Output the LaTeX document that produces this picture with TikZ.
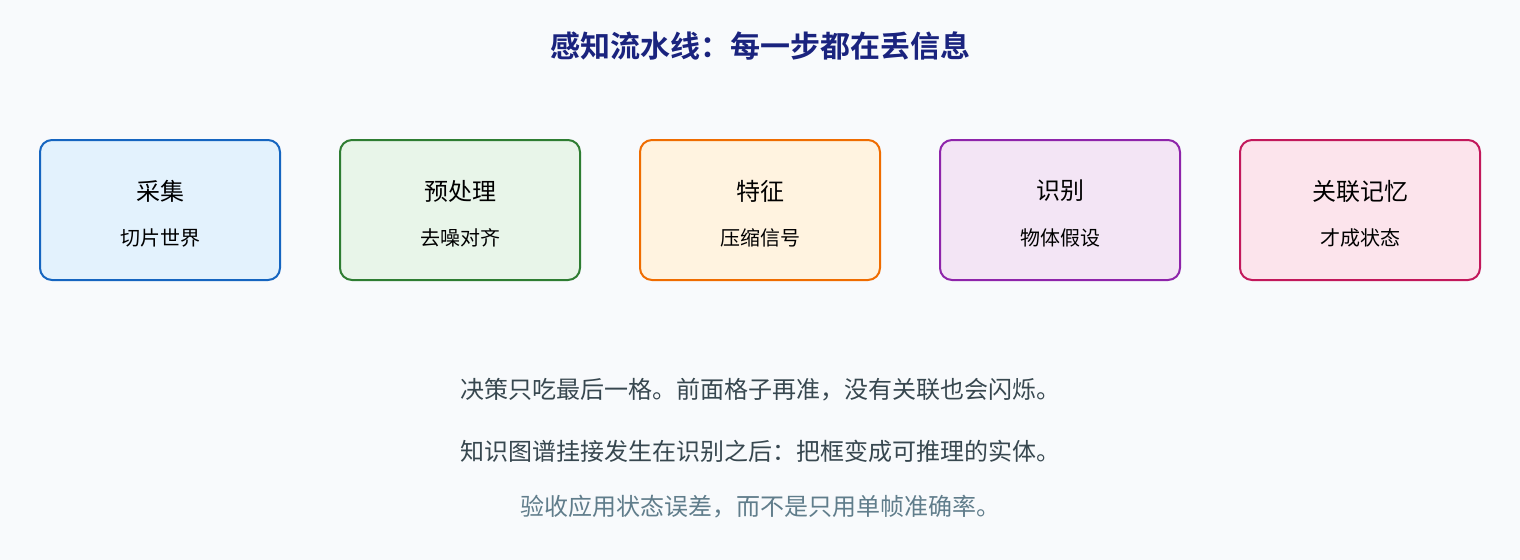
\documentclass[tikz,border=0pt]{standalone}
\usepackage{fontspec}
\setmainfont{Noto Sans CJK SC}[BoldFont={* Bold}]
\usepackage{tikz}
\usetikzlibrary{calc}

\definecolor{bgpage}{HTML}{F8FAFC}
\definecolor{titleblue}{HTML}{1A237E}
\definecolor{bodytext}{HTML}{37474F}
\definecolor{notetext}{HTML}{607D8B}
\definecolor{blueline}{HTML}{1565C0}\definecolor{bluefill}{HTML}{E3F2FD}
\definecolor{greenline}{HTML}{2E7D32}\definecolor{greenfill}{HTML}{E8F5E9}
\definecolor{orangeline}{HTML}{EF6C00}\definecolor{orangefill}{HTML}{FFF3E0}
\definecolor{purpleline}{HTML}{8E24AA}\definecolor{purplefill}{HTML}{F3E5F5}
\definecolor{pinkline}{HTML}{C2185B}\definecolor{pinkfill}{HTML}{FCE4EC}

\begin{document}
\begin{tikzpicture}[x=0.75pt, y=-0.75pt,
		stagebox/.style={draw, line width=1.5pt, rounded corners=9pt},
		stagename/.style={font=\fontsize{18}{20}\selectfont, text=black},
		stagenote/.style={font=\fontsize{15}{17}\selectfont, text=black},
		bottomline/.style={font=\fontsize{18}{20}\selectfont, text=bodytext}]
				\fill[bgpage] (0, 0) rectangle (1520, 560);
				\useasboundingbox (0, 0) rectangle (1520, 560);
				
				\node[font=\bfseries\fontsize{22.5}{24}\selectfont, text=titleblue] (title) at (760, 46) {感知流水线：每一步都在丢信息};
				
				% stages
				\draw[stagebox, draw=blueline, fill=bluefill] (40, 140) rectangle (280, 280);
				\node[stagename] (capture) at (160, 191) {采集};
				\node[stagenote] (captureNote) at (160, 238) {切片世界};
				
				\draw[stagebox, draw=greenline, fill=greenfill] (340, 140) rectangle (580, 280);
				\node[stagename] (preproc) at (460, 191) {预处理};
				\node[stagenote] (preprocNote) at (460, 238) {去噪对齐};
				
				\draw[stagebox, draw=orangeline, fill=orangefill] (640, 140) rectangle (880, 280);
				\node[stagename] (feature) at (760, 191) {特征};
				\node[stagenote] (featureNote) at (760, 238) {压缩信号};
				
				\draw[stagebox, draw=purpleline, fill=purplefill] (940, 140) rectangle (1180, 280);
				\node[stagename] (recog) at (1060, 191) {识别};
				\node[stagenote] (recogNote) at (1060, 238) {物体假设};
				
				\draw[stagebox, draw=pinkline, fill=pinkfill] (1240, 140) rectangle (1480, 280);
				\node[stagename] (assoc) at (1360, 191) {关联记忆};
				\node[stagenote] (assocNote) at (1360, 238) {才成状态};
				
				% notes below
				\node[bottomline] (lineA) at (760, 390) {决策只吃最后一格。前面格子再准，没有关联也会闪烁。};
				\node[bottomline] (lineB) at (760, 451) {知识图谱挂接发生在识别之后：把框变成可推理的实体。};
				\node[bottomline, text=notetext] (lineC) at (760, 507) {验收应用状态误差，而不是只用单帧准确率。};
			\end{tikzpicture}
\end{document}
